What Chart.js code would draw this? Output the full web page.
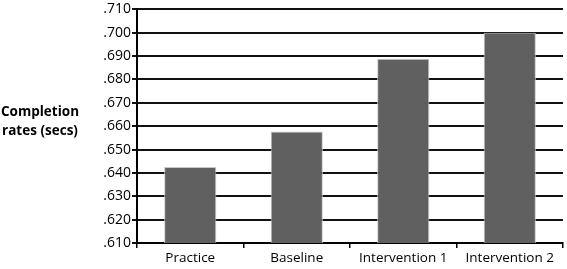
<!DOCTYPE html>
<html>
<head>
<meta charset="utf-8">
<script src="https://cdn.jsdelivr.net/npm/chart.js@4"></script>
<style>
  html, body { margin: 0; padding: 0; background: #fff; }
  #wrap { width: 567px; height: 269px; position: relative; }
</style>
</head>
<body>
<div id="wrap"><canvas id="myChart" width="567" height="269"></canvas></div>
<script>
var labels = ['Practice', 'Baseline', 'Intervention 1', 'Intervention 2'];
var rates = [0.6425, 0.6577, 0.6889, 0.700];
var yTitle = ['Completion', 'rates (secs)'];

// y-axis title drawn horizontally to the left of the axis
var sideTitle = {
    id: 'sideTitle',
    afterDraw: function(chart) {
        var c = chart.ctx;
        c.save();
        c.font = 'bold 13.5px "Open Sans"';
        c.fillStyle = '#000';
        c.textAlign = 'center';
        c.textBaseline = 'middle';
        c.fillText(yTitle[0], 40, 112);
        c.fillText(yTitle[1], 40, 131);
        c.restore();
    }
};

var ctx = document.getElementById('myChart').getContext('2d');
var myChart = new Chart(ctx, {
    type: 'bar',
    data: {
        labels: labels,
        datasets: [{
            data: rates,
            backgroundColor: '#606060',
            borderColor: '#c8c8c8',
            borderWidth: 1,
            categoryPercentage: 1,
            barPercentage: 0.49
        }]
    },
    options: {
        responsive: false,
        animation: false,
        layout: { padding: { top: 8, right: 4, left: 0, bottom: 0 } },
        plugins: { legend: { display: false }, tooltip: { enabled: false } },
        scales: {
            x: {
                afterFit: function(s) { s.height = 26; },
                border: { color: '#000', width: 2 },
                grid: { drawOnChartArea: false, drawTicks: true, tickLength: 5, color: '#000', lineWidth: 1.5 },
                ticks: { color: '#000', font: { family: 'Open Sans', size: 13.5 }, padding: 2 }
            },
            y: {
                min: 0.61,
                max: 0.71,
                afterFit: function(s) { s.width = 137; },
                border: { color: '#000', width: 2 },
                grid: { color: '#111', lineWidth: 2, tickLength: 5 },
                ticks: {
                    stepSize: 0.01,
                    color: '#000',
                    padding: 1,
                    font: { family: 'Open Sans', size: 14 },
                    callback: function(value) {
                        return value.toFixed(3).replace(/^0/, '');
                    }
                }
            }
        }
    },
    plugins: [sideTitle]
});
</script>
</body>
</html>
